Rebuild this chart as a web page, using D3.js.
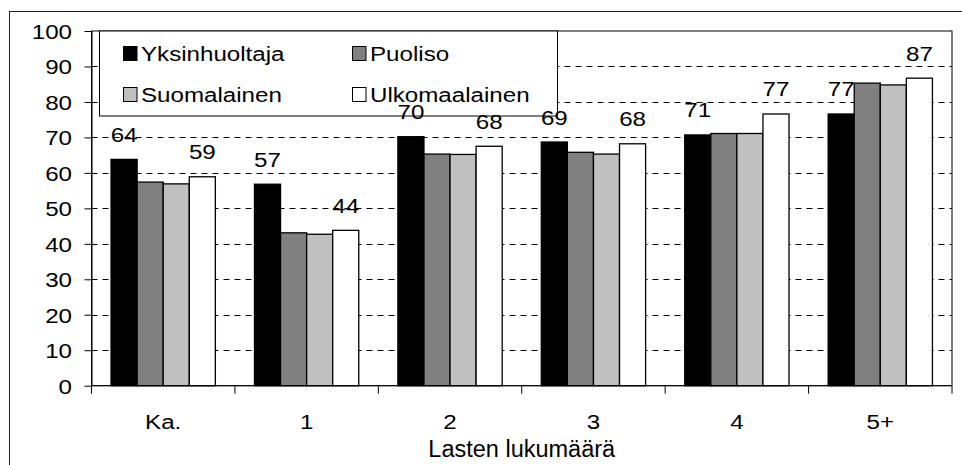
<!DOCTYPE html>
<html>
<head>
<meta charset="utf-8">
<script src="https://cdn.jsdelivr.net/npm/d3@7"></script>
<style>
  body { margin: 0; background: #fff; }
  svg text { font-family: "Liberation Sans", Arial, sans-serif; font-size: 21px; fill: #000; }
</style>
</head>
<body>
<div id="chart"></div>
<script>
// data
const categories = ["Ka.", "1", "2", "3", "4", "5+"];
const seriesNames = ["Yksinhuoltaja", "Puoliso", "Suomalainen", "Ulkomaalainen"];
const yksinhuoltaja = [63.8, 56.8, 70.2, 68.7, 70.7, 76.6];
const puoliso = [57.4, 43.1, 65.3, 65.8, 71.1, 85.3];
const suomalainen = [56.9, 42.7, 65.2, 65.3, 71.1, 84.8];
const ulkomaalainen = [58.9, 43.8, 67.5, 68.2, 76.6, 86.7];
const yTicks = [0, 10, 20, 30, 40, 50, 60, 70, 80, 90, 100];
const labelled = ["Yksinhuoltaja", "Ulkomaalainen"];

const colors = ["#000000", "#808080", "#c0c0c0", "#ffffff"];
const values = [yksinhuoltaja, puoliso, suomalainen, ulkomaalainen];

const W = 962, H = 465;
const plot = {left: 91.5, right: 952, top: 31, bottom: 385.7};
const SX = 1.15; // text in the picture is a bit stretched sideways

const svg = d3.select("#chart").append("svg")
  .attr("width", W)
  .attr("height", H);

// stretched text helper
const place = (sel, fx, fy) => sel
  .attr("transform", (d, i) => `translate(${fx(d, i)},${fy(d, i)}) scale(${SX},1)`);

// outer chart frame (runs off the right/bottom edges)
svg.append("rect")
  .attr("x", 9.5).attr("y", 11.5)
  .attr("width", 980).attr("height", 480)
  .attr("fill", "#fff")
  .attr("stroke", "#222");

const x0 = d3.scaleBand()
  .domain(categories)
  .range([plot.left, plot.right])
  .padding(0);

const x1 = d3.scaleBand()
  .domain(seriesNames)
  .range([0, x0.bandwidth()])
  .paddingInner(0)
  .paddingOuter(0.75);

const y = d3.scaleLinear()
  .domain([0, 100])
  .range([plot.bottom, plot.top]);

// dashed gridlines
svg.append("g").selectAll("line")
  .data(yTicks.filter(d => d > 0 && d < 100))
  .join("line")
  .attr("x1", plot.left).attr("x2", plot.right)
  .attr("y1", d => Math.round(y(d)) + 0.5)
  .attr("y2", d => Math.round(y(d)) + 0.5)
  .attr("stroke", "#000")
  .attr("stroke-dasharray", "6,5");

// bars
const rows = categories.map((c, i) => ({cat: c, vals: seriesNames.map((s, j) => ({s, v: values[j][i], c: colors[j]}))}));

const groups = svg.append("g").selectAll("g")
  .data(rows)
  .join("g")
  .attr("transform", d => `translate(${x0(d.cat)},0)`);

groups.selectAll("rect")
  .data(d => d.vals)
  .join("rect")
  .attr("x", d => x1(d.s))
  .attr("y", d => y(d.v))
  .attr("width", x1.bandwidth())
  .attr("height", d => y(0) - y(d.v))
  .attr("fill", d => d.c)
  .attr("stroke", "#000")
  .attr("stroke-width", 1.3);

// plot frame
svg.append("rect")
  .attr("x", plot.left).attr("y", plot.top)
  .attr("width", plot.right - plot.left)
  .attr("height", plot.bottom - plot.top)
  .attr("fill", "none")
  .attr("stroke", "#000");

// legend
const legend = svg.append("g");
legend.append("rect")
  .attr("x", 99.5).attr("y", plot.top)
  .attr("width", 458).attr("height", 116 - plot.top)
  .attr("fill", "#fff")
  .attr("stroke", "#000");

const legPos = [[123, 53], [352, 53], [123, 94], [352, 94]];
const item = legend.selectAll("g.item")
  .data(seriesNames)
  .join("g")
  .attr("class", "item")
  .attr("transform", (d, i) => `translate(${legPos[i][0]},${legPos[i][1]})`);

item.append("rect")
  .attr("x", 0.5).attr("y", -6.5)
  .attr("width", 13.5).attr("height", 14)
  .attr("fill", (d, i) => colors[i])
  .attr("stroke", "#000");

item.append("text")
  .call(place, () => 18, () => 7.5)
  .text(d => d);

// value labels, drawn above the legend box
svg.append("g").selectAll("g")
  .data(rows)
  .join("g")
  .attr("transform", d => `translate(${x0(d.cat)},0)`)
  .selectAll("text")
  .data(d => d.vals.filter(v => labelled.includes(v.s)))
  .join("text")
  .attr("text-anchor", "middle")
  .call(place, d => x1(d.s) + x1.bandwidth() / 2, d => y(d.v) - 17.5)
  .text(d => Math.round(d.v));

// y axis
const yAxis = svg.append("g")
  .attr("transform", `translate(${plot.left},0)`)
  .call(d3.axisLeft(y).tickValues(yTicks).tickSizeInner(7).tickSizeOuter(0));
yAxis.attr("font-size", null).attr("font-family", null);
yAxis.select(".domain").attr("stroke", "#000");
yAxis.selectAll(".tick line").attr("stroke", "#000");
yAxis.selectAll(".tick text")
  .attr("x", null).attr("dy", null)
  .attr("fill", "#000")
  .attr("text-anchor", "end")
  .attr("transform", `translate(-19.5,7.5) scale(${SX},1)`);

// x axis: ticks on category boundaries, labels centred
const xAxis = svg.append("g")
  .attr("transform", `translate(0,${plot.bottom})`);
xAxis.append("line")
  .attr("x1", plot.left).attr("x2", plot.right)
  .attr("stroke", "#000");
xAxis.selectAll("line.tk")
  .data(categories.map(c => x0(c)).concat([plot.right]))
  .join("line")
  .attr("class", "tk")
  .attr("x1", d => d).attr("x2", d => d)
  .attr("y1", 0).attr("y2", 8)
  .attr("stroke", "#000");
xAxis.selectAll("text")
  .data(categories)
  .join("text")
  .attr("text-anchor", "middle")
  .call(place, d => x0(d) + x0.bandwidth() / 2, () => 43.5)
  .text(d => d);

svg.append("text")
  .attr("x", (plot.left + plot.right) / 2)
  .attr("y", 456.5)
  .attr("text-anchor", "middle")
  .style("font-size", "23.5px")
  .text("Lasten lukumäärä");
</script>
</body>
</html>
